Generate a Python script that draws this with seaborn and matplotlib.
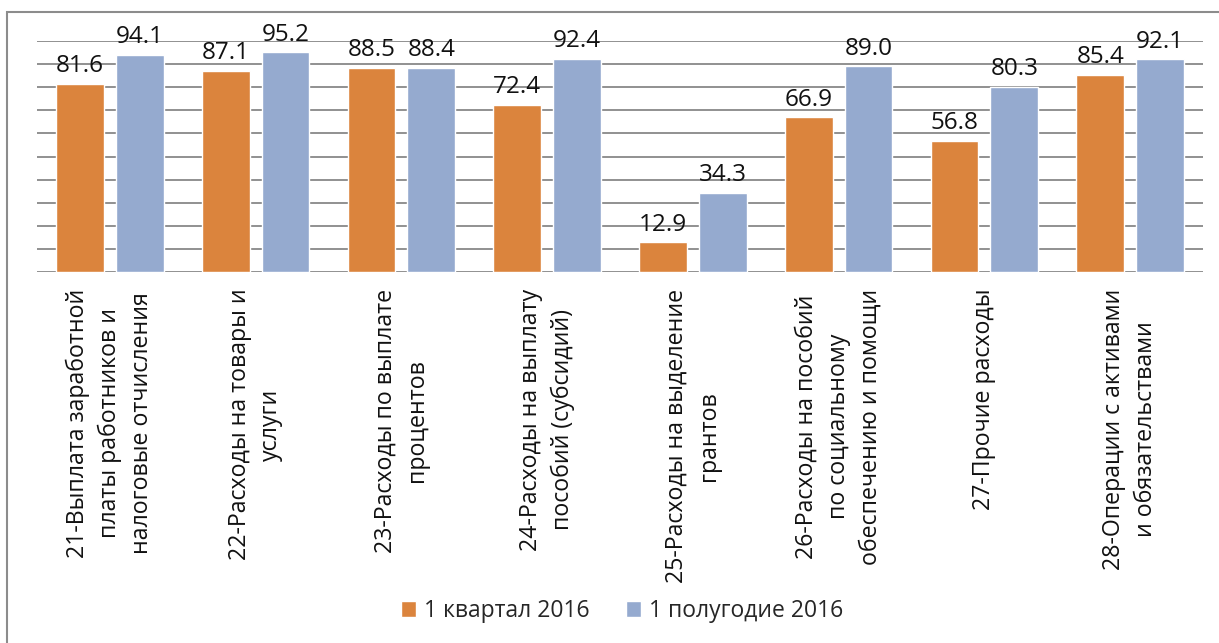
import numpy as np
import pandas as pd
import matplotlib
matplotlib.use('Agg')
import matplotlib.pyplot as plt
import matplotlib.patches as mpatches
import seaborn as sns

# данные
categories = [
    '21-Выплата заработной\nплаты работников и\nналоговые отчисления',
    '22-Расходы на товары и\nуслуги',
    '23-Расходы по выплате\nпроцентов',
    '24-Расходы на выплату\nпособий (субсидий)',
    '25-Расходы на выделение\nгрантов',
    '26-Расходы на пособий\nпо социальному\nобеспечению и помощи',
    '27-Прочие расходы',
    '28-Операции с активами\nи обязательствами',
]
q1_2016 = [81.6, 87.1, 88.5, 72.4, 12.9, 66.9, 56.8, 85.4]
h1_2016 = [94.1, 95.2, 88.4, 92.4, 34.3, 89.0, 80.3, 92.1]
series_names = ['1 квартал 2016', '1 полугодие 2016']
colors = ['#DB843D', '#95AACF']

df = pd.DataFrame({
    'cat': categories * 2,
    'value': q1_2016 + h1_2016,
    'series': [series_names[0]] * len(categories) + [series_names[1]] * len(categories),
})

sns.set_style('white')
plt.rcParams['font.family'] = ['Open Sans', 'DejaVu Sans']

fig = plt.figure(figsize=(12.19, 6.43), dpi=100)
ax = fig.add_axes([37 / 1219, 1 - 272 / 643, (1203 - 37) / 1219, (272 - 41) / 643])

sns.barplot(data=df, x='cat', y='value', hue='series', order=categories,
            hue_order=series_names, palette=colors, width=0.82, gap=0.2,
            saturation=1, errorbar=None, ax=ax, zorder=3, legend=True)

# подписи значений
for cont in ax.containers:
    for t in ax.bar_label(cont, fmt='%.1f', padding=4, fontsize=17.5, color='#111111'):
        t.set_clip_on(False)

ax.set_ylim(0, 100)
ax.set_xlim(-0.5, len(categories) - 0.5)
ax.set_yticks(np.arange(0, 101, 10))
ax.set_yticklabels([])
ax.yaxis.grid(True, color='#888888', linewidth=1.3, zorder=0)
ax.set_axisbelow(True)
for s in ax.spines.values():
    s.set_visible(False)
ax.tick_params(axis='both', length=0)
ax.tick_params(axis='x', pad=12)
ax.set_xlabel('')
ax.set_ylabel('')
ax.set_xticks(range(len(categories)))
ax.set_xticklabels(categories, rotation=90, fontsize=16.7, ha='center', va='top',
                   multialignment='center', color='#111111', linespacing=1.42)

# легенда внизу
handles, labels = ax.get_legend_handles_labels()
ax.get_legend().remove()
fig.legend(handles, labels, loc='center', bbox_to_anchor=(622 / 1219, 1 - 611 / 643),
           ncol=2, frameon=False, fontsize=16.5, handlelength=0.65, handleheight=0.65,
           handletextpad=0.35, columnspacing=1.6)

# рамка
fig.patches.append(mpatches.Rectangle((7 / 1219, -0.1), 1.2, 1 - 12 / 643 + 0.1,
                                      transform=fig.transFigure, fill=False,
                                      edgecolor='#8C8C8C', linewidth=1.5))

fig.savefig('out.png', dpi=100)
